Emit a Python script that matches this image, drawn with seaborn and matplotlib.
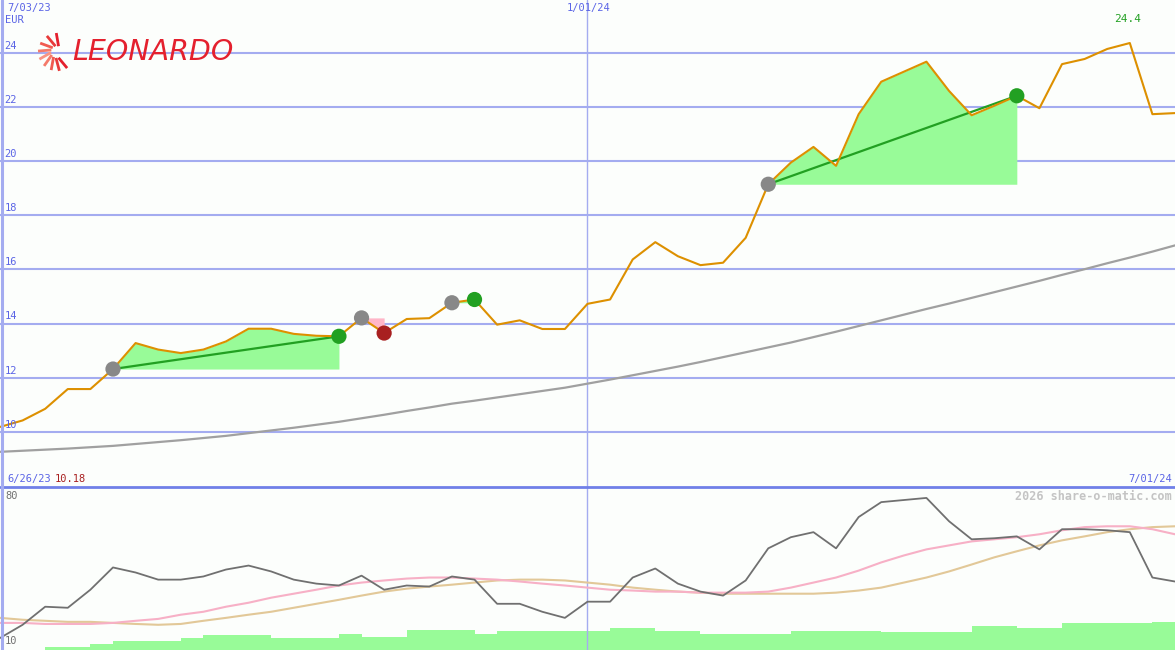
import numpy as np
import pandas as pd
import matplotlib
matplotlib.use("Agg")
import matplotlib.pyplot as plt
import seaborn as sns
from matplotlib.lines import Line2D
import matplotlib.transforms as mtransforms

# --- datos (semanales) ---
dates = pd.date_range("2023-07-03", periods=53, freq="7D")

price = [10.18, 10.42, 10.85, 11.58, 11.58, 12.32, 13.28, 13.04, 12.91, 13.04,
         13.34, 13.81, 13.81, 13.62, 13.55, 13.53, 14.21, 13.65, 14.17, 14.20,
         14.77, 14.89, 13.96, 14.12, 13.80, 13.80, 14.73, 14.89, 16.37, 17.01,
         16.49, 16.16, 16.25, 17.17, 19.15, 19.95, 20.53, 19.83, 21.74, 22.94,
         23.31, 23.68, 22.60, 21.70, 22.05, 22.42, 21.96, 23.59, 23.78, 24.15,
         24.37, 21.74, 21.78]

ma_long = [9.26, 9.30, 9.34, 9.38, 9.43, 9.48, 9.55, 9.62, 9.69, 9.77,
           9.85, 9.95, 10.05, 10.15, 10.26, 10.37, 10.50, 10.63, 10.77, 10.90,
           11.04, 11.15, 11.27, 11.39, 11.51, 11.63, 11.78, 11.93, 12.09, 12.25,
           12.41, 12.58, 12.76, 12.94, 13.12, 13.30, 13.50, 13.70, 13.91, 14.12,
           14.33, 14.54, 14.74, 14.95, 15.16, 15.37, 15.58, 15.80, 16.01, 16.23,
           16.44, 16.66, 16.89]

osc = [11.9, 18.2, 26.8, 26.3, 34.9, 45.5, 43.1, 39.7, 39.7, 41.2,
       44.5, 46.4, 43.6, 39.7, 37.8, 36.9, 41.6, 34.9, 36.9, 36.4,
       41.2, 39.7, 28.2, 28.2, 24.4, 21.5, 29.2, 29.2, 40.7, 45.0,
       37.8, 34.0, 32.1, 39.3, 54.6, 59.9, 62.3, 54.6, 69.5, 76.6,
       77.6, 78.6, 67.5, 58.9, 59.4, 60.3, 54.1, 63.7, 63.7, 63.2,
       62.3, 40.7, 38.8]

osc_fast = [19.1, 19.1, 18.6, 18.6, 18.6, 19.1, 20.1, 21.0, 23.0, 24.4,
            26.8, 28.7, 31.1, 33.0, 34.9, 36.9, 38.3, 39.3, 40.2, 40.7,
            40.7, 40.2, 39.7, 38.8, 37.8, 36.9, 35.9, 34.9, 34.5, 34.0,
            34.0, 33.5, 33.5, 33.5, 34.0, 35.9, 38.3, 40.7, 44.0, 47.9,
            51.2, 54.1, 56.0, 57.9, 58.9, 59.9, 61.3, 63.2, 64.7, 65.1,
            65.1, 63.7, 61.3]

osc_slow = [21.5, 20.6, 20.1, 19.6, 19.6, 19.1, 18.6, 18.2, 18.6, 20.1,
            21.5, 23.0, 24.4, 26.3, 28.2, 30.1, 32.1, 34.0, 35.4, 36.4,
            37.3, 38.3, 39.3, 39.7, 39.7, 39.3, 38.3, 37.3, 35.9, 34.9,
            34.0, 33.5, 33.0, 33.0, 33.0, 33.0, 33.0, 33.5, 34.5, 35.9,
            38.3, 40.7, 43.6, 46.9, 50.3, 53.2, 56.0, 58.4, 60.3, 62.3,
            63.7, 64.7, 65.1]

volume = [0, 0, 3, 3, 6, 9, 9, 9, 12, 15,
          15, 15, 12, 12, 12, 16, 13, 13, 20, 20,
          20, 16, 19, 19, 19, 19, 19, 22, 22, 19,
          19, 16, 16, 16, 16, 19, 19, 19, 19, 18,
          18, 18, 18, 24, 24, 22, 22, 27, 27, 27,
          27, 28]

# señales: entrada (gris) -> salida (verde = ganancia, rojo = pérdida)
entry_idx = [5, 16, 20, 34]
exit_idx = [15, 17, 21, 45]

y_ticks = [10, 12, 14, 16, 18, 20, 22, 24]

df = pd.DataFrame({"date": dates, "price": price, "ma": ma_long,
                   "osc": osc, "fast": osc_fast, "slow": osc_slow})

# --- estilo ---
sns.set_theme(style="white")
plt.rcParams["font.family"] = ["DejaVu Sans Mono", "DejaVu Sans"]
BG = "#fcfefc"
BLUE = "#5a64e6"
GRID = "#a4acf0"
GREEN = "#22a022"
RED = "#a82020"
FILL_G = "#98fb98"
FILL_R = "#ffb6c8"

W, H = 1175, 650
fig = plt.figure(figsize=(W / 100, H / 100), dpi=100, facecolor=BG)
split = (H - 487) / H
ax = fig.add_axes([0, split, 1, 1 - split])
axv = fig.add_axes([0, 0, 1, split])
axl = fig.add_axes([0, 0, 1, split])

for a in (ax, axv, axl):
    a.set_xlim(dates[0], dates[-1])
    a.set_xticks([])
    a.set_yticks([])
    for s in a.spines.values():
        s.set_visible(False)
ax.set_facecolor(BG)
axv.set_facecolor(BG)
axl.patch.set_visible(False)

# --- panel principal ---
ax.set_ylim(7.96, 25.96)
ytrans = mtransforms.blended_transform_factory(ax.transAxes, ax.transData)
for v in y_ticks:
    ax.axhline(v, color=GRID, lw=1.5, zorder=1)
    ax.text(0.004, v + 0.08, str(v), transform=ytrans,
            color=BLUE, fontsize=7.5, va="bottom", ha="left", zorder=5)
ax.axvline(pd.Timestamp("2024-01-01"), color=GRID, lw=1, zorder=1)

px = np.array(price)
for i0, i1 in zip(entry_idx, exit_idx):
    base = price[i0]
    win = price[i1] > base
    seg = slice(i0, i1 + 1)
    ax.fill_between(dates[seg], px[seg], base, color=FILL_G if win else FILL_R, lw=0, zorder=2)
    if win and i1 - i0 > 1:
        ax.plot([dates[i0], dates[i1]], [base, price[i1]], color=GREEN, lw=1.6, zorder=3)

sns.lineplot(data=df, x="date", y="ma", ax=ax, color="#a0a0a0", lw=1.6, zorder=3)
sns.lineplot(data=df, x="date", y="price", ax=ax, color="#dd9000", lw=1.5, zorder=4)

sns.scatterplot(x=dates[entry_idx], y=px[entry_idx], ax=ax, color="#888888",
                s=120, edgecolor="none", zorder=6)
exit_colors = [GREEN if price[j] > price[i] else RED for i, j in zip(entry_idx, exit_idx)]
sns.scatterplot(x=dates[exit_idx], y=px[exit_idx], ax=ax, c=exit_colors,
                s=120, edgecolor="none", zorder=6)
ax.set_xlabel("")
ax.set_ylabel("")
ax.set_xlim(dates[0], dates[-1])
ax.set_ylim(7.96, 25.96)

imax = int(np.argmax(px))
ax.annotate(f"{px.max():.1f}", xy=(dates[imax], px.max()), xytext=(-2, 24),
            textcoords="offset pixels", ha="center", va="center", color=GREEN, fontsize=8)

def ftext(x, y, s, **kw):
    fig.text(x / W, 1 - y / H, s, **kw)

ftext(7, 8, "7/03/23", color=BLUE, fontsize=7.5, va="center")
ftext(5, 20, "EUR", color=BLUE, fontsize=7.5, va="center")
ftext(589, 8, "1/01/24", color=BLUE, fontsize=7.5, va="center", ha="center")
ftext(7, 479, "6/26/23", color=BLUE, fontsize=7.5, va="center")
ftext(55, 479, f"{px.min():.2f}", color=RED, fontsize=7.5, va="center")
ftext(1172, 479, "7/01/24", color=BLUE, fontsize=7.5, va="center", ha="right")

# logo
ftext(72, 52, "LEONARDO", color="#e4202e", fontsize=20.5, fontstyle="italic",
      family="DejaVu Sans", va="center")
cx, cy = 57 / W, 1 - 52 / H
asp = W / H
ray_angles = [75, 105, 135, 160, 185, 210, 235, 260, 285]
ray_colors = ["#e4202e", "#e83a3a", "#f05a50", "#f47a6a", "#f89484",
              "#f47a6a", "#f05a50", "#e83a3a", "#e4202e"]
for ang, col in zip(ray_angles, ray_colors):
    t0 = np.deg2rad(ang)
    t1 = t0 + 0.3
    r0, r1 = 6 / W, 19 / W
    fig.add_artist(Line2D([cx + r0 * np.cos(t0), cx + r1 * np.cos(t1)],
                          [cy + r0 * asp * np.sin(t0), cy + r1 * asp * np.sin(t1)],
                          color=col, lw=2.0, solid_capstyle="butt"))

# --- panel inferior ---
axv.set_ylim(0, H - 487)
axv.bar(dates[:-1], volume, width=7, align="edge", color=FILL_G, lw=0)
axv.axvline(pd.Timestamp("2024-01-01"), color=GRID, lw=1)

axl.set_ylim(6.2, 83.8)
sns.lineplot(data=df, x="date", y="slow", ax=axl, color="#e2c898", lw=1.5)
sns.lineplot(data=df, x="date", y="fast", ax=axl, color="#f7b0c6", lw=1.5)
sns.lineplot(data=df, x="date", y="osc", ax=axl, color="#707070", lw=1.3)
axl.set_xlabel("")
axl.set_ylabel("")
axl.set_xlim(dates[0], dates[-1])
axl.set_ylim(6.2, 83.8)

ftext(5, 496, "80", color="#707070", fontsize=7.5, va="center")
ftext(5, 641, "10", color="#707070", fontsize=7.5, va="center")
ftext(1172, 496, "2026 share-o-matic.com", color="#c4c4c4", fontsize=8.5,
      fontweight="bold", va="center", ha="right")

# separadores
fig.add_artist(Line2D([0, 1], [split, split], color="#7080e8", lw=2))
fig.add_artist(Line2D([2 / W, 2 / W], [0, 1], color=GRID, lw=2.2))

fig.savefig("out.png", dpi=100, facecolor=BG)
